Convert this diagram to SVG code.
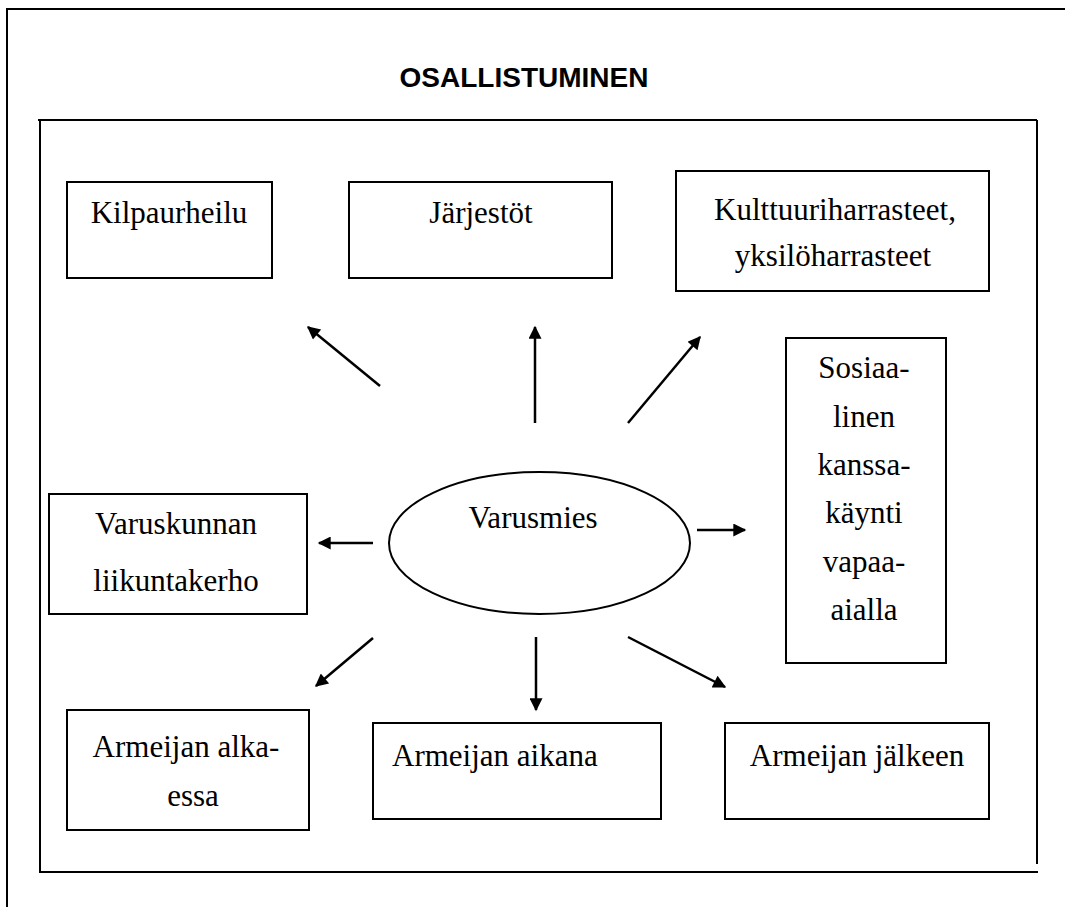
<svg xmlns="http://www.w3.org/2000/svg" width="1065" height="907" viewBox="0 0 1065 907">
<style>
.frame{fill:none;stroke:#000;stroke-width:2}
.box{fill:#fff;stroke:#000;stroke-width:2}
.t{font-family:"Liberation Serif","Times New Roman",serif;font-size:31px;fill:#000;text-anchor:middle}
.ts{font-family:"Liberation Serif","Times New Roman",serif;font-size:31px;fill:#000}
.title{font-family:"Liberation Sans",Arial,sans-serif;font-size:28px;font-weight:bold;fill:#000;text-anchor:middle}
.arr{stroke:#000;stroke-width:2.5;fill:none;marker-end:url(#ah)}
</style>
<defs>
<marker id="ah" viewBox="0 0 10 10" refX="9" refY="5" markerWidth="6.2" markerHeight="5.2" orient="auto" markerUnits="strokeWidth">
<path d="M0,0 L10,5 L0,10 z" fill="#000"/>
</marker>
</defs>
<rect x="0" y="0" width="1065" height="907" fill="#fff"/>
<g id="outer-frame">
<path class="frame" d="M7,907 L7,9 L1065,9"/>
</g>
<text class="title" x="524" y="87">OSALLISTUMINEN</text>
<g id="inner-frame">
<path class="frame" d="M38,120 L1037,120 M40,120 L40,872 M1037,120 L1037,864 M39,872 L1038,872"/>
</g>
<g id="kilpaurheilu">
<rect class="box" x="67" y="182" width="205" height="96"/>
<text class="t" x="169" y="223">Kilpaurheilu</text>
</g>
<g id="jarjestot">
<rect class="box" x="349" y="182" width="263" height="96"/>
<text class="t" x="481" y="223">Järjestöt</text>
</g>
<g id="kulttuuri">
<rect class="box" x="676" y="171" width="313" height="120"/>
<text class="t" x="835" y="220">Kulttuuriharrasteet,</text>
<text class="t" x="833" y="266">yksilöharrasteet</text>
</g>
<g id="sosiaalinen">
<rect class="box" x="786" y="338" width="160" height="325"/>
<text class="t" x="864" y="378">Sosiaa-</text>
<text class="t" x="864" y="427">linen</text>
<text class="t" x="864" y="475">kanssa-</text>
<text class="t" x="864" y="523">käynti</text>
<text class="t" x="864" y="572">vapaa-</text>
<text class="t" x="864" y="620">aialla</text>
</g>
<g id="varuskunnan">
<rect class="box" x="49" y="494" width="258" height="120"/>
<text class="t" x="176" y="534">Varuskunnan</text>
<text class="t" x="176" y="591">liikuntakerho</text>
</g>
<g id="varusmies">
<ellipse class="box" cx="539.5" cy="543" rx="150.5" ry="71"/>
<text class="t" x="533" y="528">Varusmies</text>
</g>
<g id="alkaessa">
<rect class="box" x="67" y="710" width="242" height="120"/>
<text class="t" x="186" y="757">Armeijan alka-</text>
<text class="t" x="193" y="806">essa</text>
</g>
<g id="aikana">
<rect class="box" x="373" y="723" width="288" height="96"/>
<text class="ts" x="392" y="766">Armeijan aikana</text>
</g>
<g id="jalkeen">
<rect class="box" x="725" y="723" width="264" height="96"/>
<text class="t" x="857" y="766">Armeijan jälkeen</text>
</g>
<g id="connectors">
<line class="arr" x1="380" y1="386" x2="308" y2="327"/>
<line class="arr" x1="535" y1="423" x2="535" y2="327"/>
<line class="arr" x1="628" y1="423" x2="700" y2="337"/>
<line class="arr" x1="373" y1="543" x2="319" y2="543"/>
<line class="arr" x1="697" y1="530" x2="745" y2="530"/>
<line class="arr" x1="373" y1="638" x2="316" y2="686"/>
<line class="arr" x1="536" y1="637" x2="536" y2="710"/>
<line class="arr" x1="628" y1="637" x2="725" y2="687"/>
</g>
</svg>
